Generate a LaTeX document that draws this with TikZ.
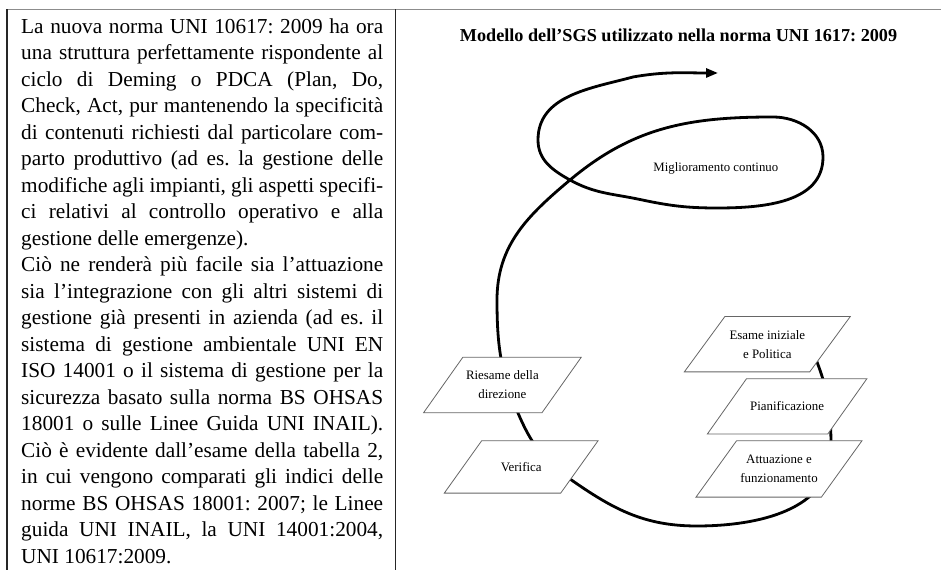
\documentclass[tikz,border=0pt]{standalone}
\usepackage{fontspec}
\setmainfont{Liberation Serif}
\usetikzlibrary{arrows.meta}
\frenchspacing

\pgfdeclarelayer{curve}
\pgfdeclarelayer{boxes}
\pgfsetlayers{curve,boxes,main}

\tikzset{
  bodyline/.style={anchor=base west, inner sep=0pt, font=\fontsize{21.3}{26.5}\selectfont},
  stage/.style={rectangle, minimum height=55pt, inner sep=0pt, align=center,
    font=\fontsize{12.9}{19}\selectfont},
  stageedge/.style={draw=black!60, line width=0.8pt, fill=white, line join=miter},
  spiral/.style={line width=2.8pt, black, -{Triangle[length=12pt,width=9pt]}},
  rule/.style={line width=1.3pt, black!85},
}

\begin{document}
\begin{tikzpicture}[x=1pt,y=1pt]
\useasboundingbox (0,0) rectangle (941,570);

% table frame
\draw[line width=1.6pt, black!45] (6.4,560.5) -- (941,560.5);
\draw[rule] (7,560.5) -- (7,0);
\draw[rule] (395.5,560.5) -- (395.5,0);

% left column text
\foreach \txt [count=\i] in {
  {La nuova norma UNI 10617: 2009 ha ora},
  {una struttura perfettamente rispondente al},
  {ciclo di Deming o PDCA (Plan, Do,},
  {Check, Act, pur mantenendo la specificità},
  {di contenuti richiesti dal particolare com-},
  {parto produttivo (ad es. la gestione delle},
  {modifiche agli impianti, gli aspetti specifi-},
  {ci relativi al controllo operativo e alla},
  {gestione delle emergenze).\hfill},
  {Ciò ne renderà più facile sia l'attuazione},
  {sia l'integrazione con gli altri sistemi di},
  {gestione già presenti in azienda (ad es. il},
  {sistema di gestione ambientale UNI EN},
  {ISO 14001 o il sistema di gestione per la},
  {sicurezza basato sulla norma BS OHSAS},
  {18001 o sulle Linee Guida UNI INAIL).},
  {Ciò è evidente dall'esame della tabella 2,},
  {in cui vengono comparati gli indici delle},
  {norme BS OHSAS 18001: 2007; le Linee},
  {guida UNI INAIL, la UNI 14001:2004,},
  {UNI 10617:2009.\hfill}
}{
  \node[bodyline] (l\i) at (21, 563.2-26.5*\i) {\makebox[362pt][s]{\txt}};
}

% right column: title
\node[anchor=base, inner sep=0pt, font=\bfseries\fontsize{18.2}{22}\selectfont]
  (title) at (678.5,528.3) {Modello dell'SGS utilizzato nella norma UNI 1617: 2009};

\node[anchor=base, inner sep=0pt, font=\fontsize{12.8}{15}\selectfont]
  (mc) at (715.8,398.3) {Miglioramento continuo};

% PDCA stages (text carriers; the slanted frames are drawn on the boxes layer)
\node[stage, minimum width=118pt] (riesame) at (502.4,185) {Riesame della\\direzione};
\node[stage, minimum width=116pt, minimum height=52pt] (verifica) at (521.2,103.1) {Verifica};
\node[stage, minimum width=125pt] (esame) at (767.3,225.8) {Esame iniziale\\e Politica};
\node[stage, minimum width=120pt] (pian) at (787.1,163.6) {Pianificazione};
\node[stage, minimum width=125pt, minimum height=56pt] (att) at (779,101.1) {Attuazione e\\funzionamento};

\begin{pgfonlayer}{boxes}
  \foreach \n/\s in {riesame/19.6, verifica/18.7, esame/20.3, pian/19.6, att/20.3}{
    \draw[stageedge] ([xshift=-\s pt]\n.south west) -- ([xshift=-\s pt]\n.south east)
      -- ([xshift=\s pt]\n.north east) -- ([xshift=\s pt]\n.north west) -- cycle;
  }
\end{pgfonlayer}

% the improvement spiral, running under the stage frames
\begin{pgfonlayer}{curve}
\draw[spiral] (esame.center) to[out=-10, in=111] (817,208)
  to[out=-69, in=90] (831,120)
  to[out=-90, in=0] (697,44)
  to[out=180, in=-35] (570,91)
  to[out=145, in=-67] (518,157)
  to[out=113, in=-90] (497,270)
  to[out=90, in=220] (570,390)
  to[out=40, in=180] (773,453)
  to[out=0, in=90] (823,413)
  to[out=-90, in=0] (717,362)
  to[out=180, in=-12] (640,370.5)
  to[out=168, in=-29] (570,390)
  to[out=151, in=-90] (538,430)
  to[out=90, in=195] (633,493)
  to[out=10, in=180] (718,497);
\end{pgfonlayer}
\end{tikzpicture}
\end{document}
